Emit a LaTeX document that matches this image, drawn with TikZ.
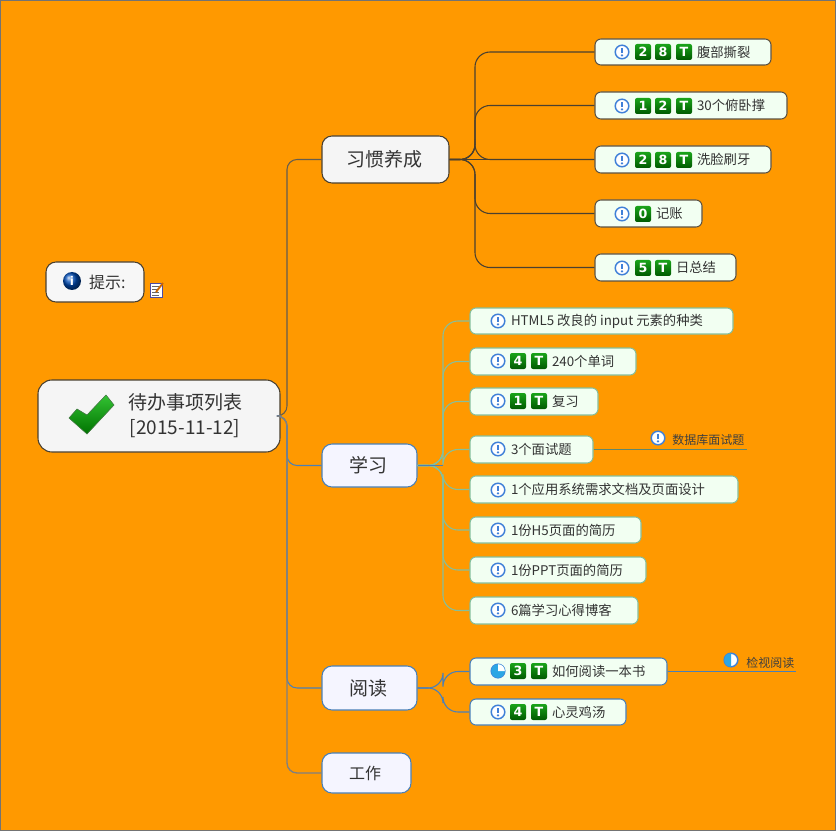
\documentclass[tikz,border=0pt]{standalone}
\usepackage{fontspec}
\setmainfont{Noto Sans CJK SC}
\newfontfamily\badgefont{DejaVu Sans}
\usetikzlibrary{shadings}
\newdimen\px \px=0.75pt
\definecolor{bgor}{HTML}{FF9900}
\definecolor{txt}{HTML}{333333}
\definecolor{dk}{HTML}{4A4030}
\definecolor{bl}{HTML}{4A80B8}
\definecolor{gr}{HTML}{86BF9C}
\definecolor{ringb}{HTML}{3F80D8}
\tikzset{
  x=0.75pt,y=-0.75pt,
  box/.style={rounded corners=6\px,line width=0.8pt,text=txt,inner sep=0pt,align=left,font=\fontsize{10pt}{12pt}\selectfont},
  dbox/.style={box,draw=dk!90,fill=white!90!green!50!white},
  gbox/.style={box,draw=gr,fill=white!90!green!50!white},
  bbox/.style={box,draw=bl,fill=white!90!green!50!white},
  mainw/.style={box,rounded corners=10\px,draw=dk,fill=black!4,font=\fontsize{14.25pt}{18pt}\selectfont},
  mainb/.style={box,rounded corners=10\px,draw=bl,fill=blue!4!white,font=\fontsize{14.25pt}{18pt}\selectfont},
  mainc/.style={mainb,font=\fontsize{12pt}{15pt}\selectfont},
  rootb/.style={mainw,rounded corners=14\px,font=\fontsize{14.25pt}{18.75pt}\selectfont},
  tipb/.style={mainw,fill=white!97!black,font=\fontsize{12pt}{15pt}\selectfont},
  subt/.style={text=black!75,inner sep=0pt,font=\fontsize{9pt}{11pt}\selectfont,anchor=west},
  conn/.style={line width=0.8pt,rounded corners=#1},
  conn/.default=15\px,
  pics/prio/.style={code={
    \draw[ringb,line width=1.1pt,fill=white] (0,0) circle (6.8);
    \fill[ringb] (-1.1,-4.4) rectangle (1.1,1.2);
    \fill[ringb] (0,3.4) circle (1.3);
  }},
  pics/quarter/.style={code={
    \draw[ringb,line width=1.1pt,fill=white] (0,0) circle (6.8);
    \fill[ringb!70!cyan] (0,0) -- (0,-6.8) arc[start angle=90,end angle=450,radius=6.8\px] -- cycle;
    \fill[white] (0,0) -- (6.8,0) arc[start angle=0,end angle=90,radius=6.8\px] -- cycle;
  }},
  pics/half/.style={code={
    \draw[ringb,line width=1.1pt,fill=white] (0,0) circle (6.8);
    \fill[ringb!70!cyan] (0,-6.8) arc[start angle=90,end angle=270,radius=6.8\px] -- cycle;
  }},
  pics/badge/.style={code={
    \node[rounded corners=2\px,top color=green!60!black!90!white,bottom color=green!35!black,
      minimum size=16\px,inner sep=0pt,text=white,font=\badgefont\bfseries\fontsize{9.5pt}{10pt}\selectfont] (-n) at (0,0) {#1};
  }},
}
% style, name, x0, x1, y0, y1, text offset, text
\newcommand\topic[8]{%
  \pgfmathsetlengthmacro\tw{(#4-#3)*0.75}%
  \pgfmathsetlengthmacro\th{(#6-#5)*0.75}%
  \node[#1,minimum width=\tw,minimum height=\th] (#2) at ({(#3+#4)/2},{(#5+#6)/2})
    {\makebox[\tw][l]{\hspace*{#7\px}#8}};}
\begin{document}
\begin{tikzpicture}
\useasboundingbox (0,0) rectangle (836,831);
\fill[bgor,draw=black!55,line width=0.8pt] (0.5,0.5) rectangle (835.5,830.5);

% main boxes
\topic{rootb}{root}{38}{280}{380}{452}{88}{\parbox[c]{118\px}{\centering 待办事项列表\\{}[2015-11-12]}}
\topic{tipb}{tip}{46}{144}{262}{302}{43}{提示:}
\topic{mainw}{habit}{322}{449}{136}{183}{24}{习惯养成}
\topic{mainb}{learn}{322}{417}{444}{487}{27}{学习}
\topic{mainb}{read}{322}{417}{666}{710}{27}{阅读}
\topic{mainc}{work}{322}{411}{753}{793}{27}{工作}

% habit children
\topic{dbox}{h1}{595}{771}{39}{65}{102}{腹部撕裂}
\topic{dbox}{h2}{595}{787}{92}{119}{102}{30个俯卧撑}
\topic{dbox}{h3}{595}{771}{146}{173}{102}{洗脸刷牙}
\topic{dbox}{h4}{595}{702}{200}{227}{61}{记账}
\topic{dbox}{h5}{595}{736}{254}{281}{81}{日总结}

% learning children
\topic{gbox}{l1}{470}{733}{308}{334}{41}{HTML5 改良的 input 元素的种类}
\topic{gbox}{l2}{470}{636}{348}{375}{82}{240个单词}
\topic{gbox}{l3}{470}{598}{388}{415}{82}{复习}
\topic{gbox}{l4}{470}{593}{436}{463}{41}{3个面试题}
\topic{gbox}{l5}{470}{738}{476}{503}{41}{1个应用系统需求文档及页面设计}
\topic{gbox}{l6}{470}{641}{517}{543}{41}{1份H5页面的简历}
\topic{gbox}{l7}{470}{646}{557}{583}{41}{1份PPT页面的简历}
\topic{gbox}{l8}{470}{638}{597}{624}{41}{6篇学习心得博客}

% reading children
\topic{bbox}{r1}{470}{667}{658}{685}{82}{如何阅读一本书}
\topic{bbox}{r2}{470}{626}{699}{725}{82}{心灵鸡汤}

% subtopics
\node[subt] (db) at (672,440) {数据库面试题};
\node[subt] (jv) at (746,663) {检视阅读};

% connectors
\coordinate (trunk) at (287,0);
\draw[conn=10\px,dk!85] (root.east) -- (trunk |- root.east) |- (habit.west);
\draw[conn=10\px,bl] (root.east) -- (trunk |- root.east) |- (learn.west);
\draw[conn=10\px,bl] (root.east) -- (trunk |- root.east) |- (read.west);
\draw[conn=10\px,black!50,line width=1pt] (root.east) -- (trunk |- root.east) |- (work.west);

\coordinate (ht) at (475,0);
\foreach \c in {h1,h2,h3,h4,h5}{
  \draw[conn,dk] (habit.east) -- (ht |- habit.east) |- (\c.west);
}
\draw[dk,line width=0.8pt] (habit.east) -- (h3.west);

\coordinate (lt) at (443,0);
\foreach \c in {l1,l2,l3,l4,l5,l6,l7,l8}{
  \draw[conn,gr] (learn.east) -- (lt |- learn.east) |- (\c.west);
}
\draw[bl,line width=0.8pt] (learn.east) -- (lt |- learn.east);

\coordinate (rt) at (443,0);
\foreach \c in {r1,r2}{
  \draw[conn,bl] (read.east) -- (rt |- read.east) |- (\c.west);
}
\draw[gr!70!black,line width=0.7pt] (l4.east) -- (db.south east |- l4.east) -- ++(2,0);
\draw[bl,line width=0.7pt] (r1.east) -- (jv.south east |- r1.east) -- ++(1,0);

% icons: root tick, info ball, note
\filldraw[draw=green!30!black!70,line width=0.4pt,top color=green!70!black!80,bottom color=green!45!black]
  (69,418) -- (77,409) -- (87,415) -- (106,395) -- (114,405) -- (87,434) -- cycle;
\shade[ball color=blue!60!black!70!cyan] (72,281) circle (9);
\node[text=white,inner sep=0pt,font=\badgefont\bfseries\fontsize{9pt}{10pt}\selectfont] (tipi) at (72,281) {i};
\draw[blue!50!black!70,fill=white,line width=0.5pt] (150,283) rectangle (162,297);
\foreach \yy in {286,289,292,295}{\draw[black!60,line width=0.4pt] (152,\yy) -- (159,\yy);}
\draw[orange!80!black,line width=1.4pt] (156,292) -- (163,283);

% habit icons
\foreach \yy/\aa/\bb in {52/2/8,106/1/2,160/2/8}{
  \pic at (622,\yy) {prio};
  \pic at (643,\yy) {badge=\aa};
  \pic at (663,\yy) {badge=\bb};
  \pic at (684,\yy) {badge=T};
}
\pic at (622,214) {prio};
\pic at (643,214) {badge=0};
\pic at (622,268) {prio};
\pic at (643,268) {badge=5};
\pic at (663,268) {badge=T};

% learning icons
\foreach \yy in {321,449,490,530,570,610}{\pic at (498,\yy) {prio};}
\foreach \yy/\aa in {361/4,401/1}{
  \pic at (498,\yy) {prio};
  \pic at (518,\yy) {badge=\aa};
  \pic at (539,\yy) {badge=T};
}
\pic at (658,438) {prio};

% reading icons
\pic at (498,671) {quarter};
\pic at (518,671) {badge=3};
\pic at (539,671) {badge=T};
\pic at (498,712) {prio};
\pic at (518,712) {badge=4};
\pic at (539,712) {badge=T};
\pic at (731,660) {half};
\end{tikzpicture}
\end{document}
